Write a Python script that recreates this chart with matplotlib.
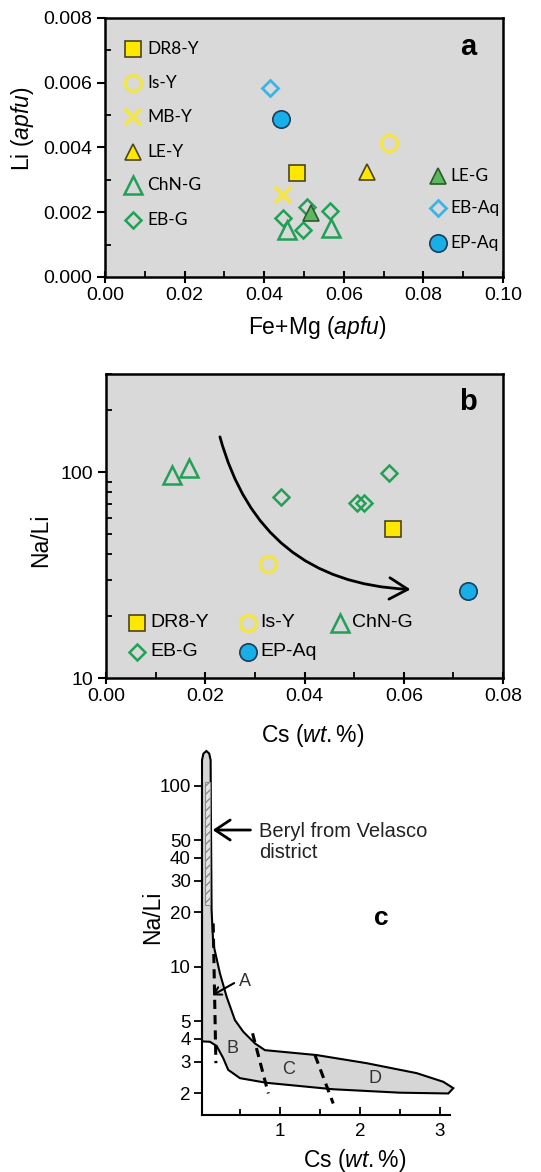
import numpy as np
import matplotlib
matplotlib.use('Agg')
import matplotlib.pyplot as plt
from matplotlib.patches import FancyArrowPatch, Polygon, Rectangle
from matplotlib.ticker import MultipleLocator, NullFormatter, NullLocator

plt.rcParams['font.family'] = 'Liberation Sans'
plt.rcParams['mathtext.fontset'] = 'custom'
plt.rcParams['mathtext.rm'] = 'Liberation Sans'
plt.rcParams['mathtext.it'] = 'Liberation Sans:italic'
plt.rcParams['hatch.color'] = '#9a9a9a'

# ---------------- data ----------------
# panel a : Li vs Fe+Mg (apfu)
a_dr8y_x, a_dr8y_y = [0.0482], [0.00320]
a_isy_x, a_isy_y = [0.0714], [0.00415]
a_mby_x, a_mby_y = [0.0446], [0.00253]
a_ley_x, a_ley_y = [0.0657], [0.00325]
a_chng_x, a_chng_y = [0.0458, 0.0567], [0.00145, 0.00150]
a_ebg_x = [0.0446, 0.0508, 0.0565, 0.0498]
a_ebg_y = [0.00181, 0.00217, 0.00205, 0.00145]
a_leg_x, a_leg_y = [0.0517], [0.00197]
a_ebaq_x, a_ebaq_y = [0.0415], [0.00583]
a_epaq_x, a_epaq_y = [0.0441], [0.00487]

# panel b : Na/Li vs Cs (wt.%)
b_dr8y_x, b_dr8y_y = [0.0578], [53.1]
b_isy_x, b_isy_y = [0.0326], [35.9]
b_chng_x, b_chng_y = [0.0132, 0.0168], [97, 105]
b_ebg_x = [0.0352, 0.0506, 0.0520, 0.0571]
b_ebg_y = [75.8, 71.1, 70.6, 99]
b_epaq_x, b_epaq_y = [0.0730], [26.4]
b_trend = [(0.0228, 153), (0.0619, 26.9)]

# panel c : envelope of beryl compositions (Cs wt.% , Na/Li)
env_cs = [0.075, 0.110, 0.128, 0.131, 0.140, 0.160, 0.244, 0.328, 0.432, 0.536,
          0.683, 0.808, 1.455, 2.081, 2.708, 3.041, 3.166, 3.104, 2.498, 1.663,
          0.829, 0.495, 0.348, 0.286, 0.203, 0.119, 0.020, 0.020, 0.038]
env_nali = [156, 151, 139, 73.6, 20.6, 13.5, 9.23, 6.85, 5.09, 4.39,
            3.78, 3.47, 3.26, 2.94, 2.59, 2.32, 2.14, 2.00, 2.02, 2.11,
            2.29, 2.43, 2.70, 3.13, 3.66, 3.86, 3.88, 139, 151]
velasco_cs = [0.06, 0.12]
velasco_nali = [22, 105]
dash_cs = [[0.160, 0.194], [0.653, 0.850], [1.434, 1.663]]
dash_nali = [[17.4, 2.94], [4.30, 2.00], [3.26, 1.76]]
field_labels = ['A', 'B', 'C', 'D']
field_cs = [0.557, 0.40, 1.10, 2.19]
field_nali = [8.29, 3.55, 2.72, 2.43]
c_ticks = [2, 3, 4, 5, 10, 20, 30, 40, 50, 100]

YEL = '#ffe800'
YEL_EDGE = '#4a4520'
YEL_LIGHT = '#f1e44e'
GRN = '#22a055'
BLUE = '#18aee8'

sty = {
    'DR8-Y': dict(marker='s', ms=11, mfc=YEL, mec=YEL_EDGE, mew=1.2),
    'Is-Y': dict(marker='o', ms=11.5, mfc='none', mec=YEL_LIGHT, mew=2.6),
    'MB-Y': dict(marker='x', ms=11, mec=YEL_LIGHT, mew=3),
    'LE-Y': dict(marker='^', ms=12, mfc=YEL, mec=YEL_EDGE, mew=1.2),
    'ChN-G': dict(marker='^', ms=13, mfc='none', mec=GRN, mew=1.8),
    'EB-G': dict(marker='D', ms=8.5, mfc='none', mec=GRN, mew=1.8),
    'LE-G': dict(marker='^', ms=12, mfc='#5cb85c', mec='#2d5a2d', mew=1.2),
    'EB-Aq': dict(marker='D', ms=8.5, mfc='none', mec='#3db4e8', mew=2),
    'EP-Aq': dict(marker='o', ms=12.5, mfc=BLUE, mec='#1c3c58', mew=1.2),
}


def pts(ax, x, y, key):
    ax.plot(x, y, linestyle='none', zorder=3, **sty[key])


def key_rows(ax, keys, xm, xt, ys, fs, family):
    for k, y in zip(keys, ys):
        ax.plot([xm], [y], transform=ax.transAxes, linestyle='none', **sty[k])
        ax.text(xt, y, k, transform=ax.transAxes, va='center', ha='left',
                fontsize=fs, family=family)


def frame(ax):
    ax.set_facecolor('#d9d9d9')
    for s in ax.spines.values():
        s.set_linewidth(1.8)
    ax.tick_params(which='major', axis='x', direction='inout', length=9, width=1.5,
                   labelsize=14, pad=3)
    ax.tick_params(which='major', axis='y', direction='out', length=6, width=1.5,
                   labelsize=14)
    ax.tick_params(which='minor', direction='in', length=4, width=1.3)
    ax.tick_params(top=False, right=False, which='both')


fig = plt.figure(figsize=(5.41, 11.72), dpi=100)

# ---------------- panel a ----------------
ax = fig.add_axes([0.194, 0.7637, 0.736, 0.2210])
frame(ax)
pts(ax, a_chng_x, a_chng_y, 'ChN-G')
pts(ax, a_ebg_x, a_ebg_y, 'EB-G')
pts(ax, a_leg_x, a_leg_y, 'LE-G')
pts(ax, a_mby_x, a_mby_y, 'MB-Y')
pts(ax, a_dr8y_x, a_dr8y_y, 'DR8-Y')
pts(ax, a_ley_x, a_ley_y, 'LE-Y')
pts(ax, a_isy_x, a_isy_y, 'Is-Y')
pts(ax, a_ebaq_x, a_ebaq_y, 'EB-Aq')
pts(ax, a_epaq_x, a_epaq_y, 'EP-Aq')
ax.set_xlim(0, 0.10)
ax.set_ylim(0, 0.008)
ax.xaxis.set_major_locator(MultipleLocator(0.02))
ax.xaxis.set_minor_locator(MultipleLocator(0.01))
ax.yaxis.set_major_locator(MultipleLocator(0.002))
ax.yaxis.set_minor_locator(MultipleLocator(0.001))
ax.xaxis.set_major_formatter(plt.FuncFormatter(lambda v, p: '%.2f' % v))
ax.yaxis.set_major_formatter(plt.FuncFormatter(lambda v, p: '%.3f' % v))
ax.set_xlabel(r'Fe+Mg ($\it{apfu}$)', fontsize=16.5, va='center')
ax.xaxis.set_label_coords(0.533, -0.197)
ax.set_ylabel(r'Li ($\it{apfu}$)', fontsize=16.5, va='center')
ax.yaxis.set_label_coords(-0.208, 0.571)
key_rows(ax, ['DR8-Y', 'Is-Y', 'MB-Y', 'LE-Y', 'ChN-G', 'EB-G'], 0.0704, 0.1055,
         [0.880, 0.749, 0.618, 0.483, 0.355, 0.220], 12.5, 'Lato')
key_rows(ax, ['LE-G', 'EB-Aq', 'EP-Aq'], 0.837, 0.867,
         [0.390, 0.266, 0.131], 12.5, 'Lato')
ax.text(0.912, 0.888, 'a', transform=ax.transAxes, fontsize=21, fontweight='bold',
        ha='center', va='center')

# ---------------- panel b ----------------
ax = fig.add_axes([0.196, 0.4215, 0.734, 0.2594])
frame(ax)
ax.set_yscale('log')
pts(ax, b_chng_x, b_chng_y, 'ChN-G')
pts(ax, b_ebg_x, b_ebg_y, 'EB-G')
pts(ax, b_dr8y_x, b_dr8y_y, 'DR8-Y')
pts(ax, b_isy_x, b_isy_y, 'Is-Y')
pts(ax, b_epaq_x, b_epaq_y, 'EP-Aq')
ax.set_xlim(0, 0.08)
ax.set_ylim(10, 300)
ax.xaxis.set_major_locator(MultipleLocator(0.02))
ax.xaxis.set_minor_locator(MultipleLocator(0.01))
ax.xaxis.set_major_formatter(plt.FuncFormatter(lambda v, p: '%.2f' % v))
ax.set_yticks([10, 100])
ax.set_yticklabels(['10', '100'])
ax.yaxis.set_minor_formatter(NullFormatter())
ax.add_patch(FancyArrowPatch(b_trend[0], b_trend[1], connectionstyle='arc3,rad=0.37',
                             arrowstyle='->,head_length=0.6,head_width=0.35',
                             mutation_scale=22, lw=2, color='black', zorder=2))
ax.set_xlabel(r'Cs ($\it{wt.\%}$)', fontsize=16.5, va='center')
ax.xaxis.set_label_coords(0.521, -0.1875)
ax.set_ylabel('Na/Li', fontsize=16.5, va='center')
ax.yaxis.set_label_coords(-0.164, 0.454)
for keys, xm, xt in [(['DR8-Y', 'EB-G'], 0.0773, 0.111),
                     (['Is-Y', 'EP-Aq'], 0.358, 0.388),
                     (['ChN-G'], 0.589, 0.619)]:
    key_rows(ax, keys, xm, xt, [0.181, 0.0865], 14, 'Liberation Sans')
ax.text(0.912, 0.909, 'b', transform=ax.transAxes, fontsize=21, fontweight='bold',
        ha='center', va='center')

# ---------------- panel c ----------------
ax = fig.add_axes([0.3734, 0.0486, 0.4584, 0.3123])
ax.set_yscale('log')
ax.set_xlim(0.02, 3.125)
ax.set_ylim(1.52, 160)
for s in ['top', 'right']:
    ax.spines[s].set_visible(False)
for s in ['left', 'bottom']:
    ax.spines[s].set_linewidth(1.5)
ax.spines['left'].set_bounds(1.52, 100)
ax.add_patch(Polygon(np.column_stack([env_cs, env_nali]), closed=True,
                     facecolor='#d6d6d6', edgecolor='black', lw=1.5,
                     clip_on=False, zorder=2))
ax.add_patch(Rectangle((velasco_cs[0], velasco_nali[0]), velasco_cs[1] - velasco_cs[0],
                       velasco_nali[1] - velasco_nali[0], facecolor='#e6e6e6',
                       edgecolor='#8a8a8a', lw=0.8, hatch='////', zorder=3))
for xs, ys in zip(dash_cs, dash_nali):
    ax.plot(xs, ys, color='black', lw=2.2, ls=(0, (3, 2)), zorder=4, clip_on=False)
for t, x, y in zip(field_labels, field_cs, field_nali):
    ax.text(x, y, t, fontsize=13, ha='center', va='center', color='#333333', zorder=5)
ax.annotate('', xy=(0.119, 6.85), xytext=(0.453, 8.29),
            arrowprops=dict(arrowstyle='->,head_length=0.5,head_width=0.3',
                            lw=1.5, color='black'), zorder=5)
ax.annotate('', xy=(0.119, 57.1), xytext=(0.661, 57.1),
            arrowprops=dict(arrowstyle='->,head_length=0.6,head_width=0.4',
                            lw=2, color='black', mutation_scale=18), zorder=5)
ax.text(0.737, 63, 'Beryl from Velasco\ndistrict', fontsize=14.5, ha='left', va='top',
        color='#222222', linespacing=1.1)
ax.text(2.27, 18.6, 'c', fontsize=19, fontweight='bold', ha='center', va='center')
ax.set_yticks(c_ticks)
ax.set_yticklabels([str(v) for v in c_ticks])
ax.yaxis.set_minor_locator(NullLocator())
ax.set_xticks([1, 2, 3])
ax.set_xticklabels(['1', '2', '3'])
ax.xaxis.set_minor_locator(MultipleLocator(0.5))
ax.tick_params(axis='y', direction='out', length=6, width=1.3, labelsize=13.5, pad=2)
ax.tick_params(axis='x', which='major', direction='in', length=6, width=1.3,
               labelsize=13.5, pad=6)
ax.tick_params(axis='x', which='minor', direction='in', length=4, width=1.3)
ax.set_xlabel(r'Cs ($\it{wt.\%}$)', fontsize=16.5, va='center')
ax.xaxis.set_label_coords(0.617, -0.123)
ax.set_ylabel('Na/Li', fontsize=16.5, va='center')
ax.yaxis.set_label_coords(-0.198, 0.541)

fig.savefig('out.png', dpi=100)
